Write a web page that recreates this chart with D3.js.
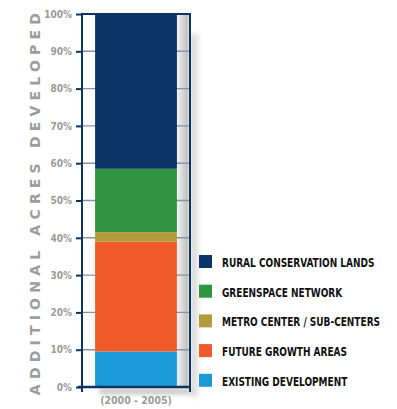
<!DOCTYPE html>
<html>
<head>
<meta charset="utf-8">
<script src="https://cdn.jsdelivr.net/npm/d3@7"></script>
<style>
  body { margin: 0; background: #fff; }
  svg { display: block; }
</style>
</head>
<body>
<svg width="397" height="409"></svg>
<script>
// stacked from bottom to top
const categories = ["EXISTING DEVELOPMENT", "FUTURE GROWTH AREAS", "METRO CENTER / SUB-CENTERS", "GREENSPACE NETWORK", "RURAL CONSERVATION LANDS"];
const values = [9.5, 29.5, 2.5, 17, 41.5];
const colors = ["#1b9ad9", "#ee5a2a", "#b59a3c", "#2f9540", "#0a3566"];
const yTicks = [0, 10, 20, 30, 40, 50, 60, 70, 80, 90, 100];
const period = "(2000 - 2005)";
const yTitle = "ADDITIONAL ACRES DEVELOPED";

const svg = d3.select("svg");
const navy = "#0d3563";
const condensed = "'Liberation Sans Narrow', 'DejaVu Sans Condensed', 'Roboto Condensed', sans-serif";

const frameL = 82, frameR = 190;
const y = d3.scaleLinear().domain([0, 100]).range([387, 14]);
const x = d3.scaleBand().domain([period]).range([frameL, frameR]).paddingInner(0).paddingOuter(0.16);

let acc = 0;
const stack = values.map((v, i) => {
    const d = { name: categories[i], y0: acc, y1: acc + v, color: colors[i] };
    acc += v;
    return d;
});

const defs = svg.append("defs");
const g1 = defs.append("linearGradient").attr("id", "shade");
g1.append("stop").attr("offset", "0%").attr("stop-color", "#f4f4f4");
g1.append("stop").attr("offset", "75%").attr("stop-color", "#c2c2c2");
g1.append("stop").attr("offset", "100%").attr("stop-color", "#ececec");
const g2 = defs.append("linearGradient").attr("id", "outer");
g2.append("stop").attr("offset", "0%").attr("stop-color", "#c8c8c8");
g2.append("stop").attr("offset", "100%").attr("stop-color", "#ffffff");
const blur = defs.append("filter").attr("id", "blur").attr("x", "-50%").attr("y", "-50%").attr("width", "200%").attr("height", "200%");
blur.append("feGaussianBlur").attr("stdDeviation", 2.5);

const bx = x(period) + x.bandwidth();

// soft shadow to the right of the frame
svg.append("rect")
    .attr("x", frameR + 1).attr("y", y(100) + 20)
    .attr("width", 10).attr("height", y(0) - y(100) - 10)
    .attr("fill", "url(#outer)")
    .attr("filter", "url(#blur)");

// shadow beside bar inside the frame
svg.append("rect")
    .attr("x", bx).attr("y", y(100))
    .attr("width", frameR - bx).attr("height", y(0) - y(100))
    .attr("fill", "url(#shade)");

// shadow under the bottom line
svg.append("rect")
    .attr("x", x(period) + 4).attr("y", y(0) + 2)
    .attr("width", frameR - x(period) - 4).attr("height", 5)
    .attr("fill", "#bdbdbd")
    .attr("filter", "url(#blur)");

// gridlines
svg.append("g")
    .selectAll("line")
    .data(yTicks.filter(t => t > 0 && t < 100))
    .enter()
    .append("line")
    .attr("x1", frameL).attr("x2", frameR)
    .attr("y1", d => y(d)).attr("y2", d => y(d))
    .attr("stroke", "#8593ab")
    .attr("stroke-width", 1.4);

// bar segments
svg.append("g")
    .selectAll("rect")
    .data(stack)
    .enter()
    .append("rect")
    .attr("x", x(period))
    .attr("width", x.bandwidth())
    .attr("y", d => y(d.y1))
    .attr("height", d => y(d.y0) - y(d.y1))
    .attr("fill", d => d.color);

// frame
svg.append("path")
    .attr("d", `M${frameL},${y(0)} V${y(100)} H${frameR} V${y(0)}`)
    .attr("fill", "none")
    .attr("stroke", navy)
    .attr("stroke-width", 2);
svg.append("line")
    .attr("x1", frameL - 4).attr("x2", frameR + 1)
    .attr("y1", y(0)).attr("y2", y(0))
    .attr("stroke", navy).attr("stroke-width", 2.5);
[frameL, frameR].forEach(px => {
    svg.append("line")
        .attr("x1", px).attr("x2", px)
        .attr("y1", y(0)).attr("y2", y(0) + 5)
        .attr("stroke", navy).attr("stroke-width", 2);
});

// y axis
const yAxis = d3.axisLeft(y)
    .tickValues(yTicks)
    .tickSize(6)
    .tickPadding(4)
    .tickFormat(d => d + "%");
const ax = svg.append("g")
    .attr("transform", `translate(${frameL},0)`)
    .call(yAxis);
ax.select(".domain").remove();
ax.selectAll(".tick line").attr("stroke", navy).attr("stroke-width", 2);
ax.selectAll(".tick text")
    .attr("fill", "#9a9a9a")
    .style("font-family", condensed)
    .style("font-weight", "bold")
    .style("font-size", "10px");

// y title
svg.append("text")
    .attr("transform", `translate(40,${(y(0) + y(100)) / 2 + 1}) rotate(-90)`)
    .attr("text-anchor", "middle")
    .attr("fill", "#9c9c9c")
    .style("font-family", "'DejaVu Sans', sans-serif")
    .style("font-weight", "bold")
    .style("font-size", "14px")
    .style("letter-spacing", "5.2px")
    .text(yTitle);

// x label
svg.append("text")
    .attr("x", x(period) + x.bandwidth() / 2)
    .attr("y", 404)
    .attr("text-anchor", "middle")
    .attr("fill", "#9a9a9a")
    .style("font-family", condensed)
    .style("font-weight", "bold")
    .style("font-size", "10.5px")
    .text(period);

// legend (top item = top of stack)
const legend = svg.append("g")
    .selectAll("g")
    .data(stack.slice().reverse())
    .enter()
    .append("g")
    .attr("transform", (d, i) => `translate(199,${255 + i * 29.7})`);
legend.append("rect")
    .attr("width", 13).attr("height", 13)
    .attr("fill", d => d.color);
legend.append("text")
    .attr("transform", "translate(23,12) scale(0.8,1)")
    .attr("fill", "#111")
    .style("font-family", condensed)
    .style("font-weight", "bold")
    .style("font-size", "12.5px")
    .text(d => d.name);
</script>
</body>
</html>
